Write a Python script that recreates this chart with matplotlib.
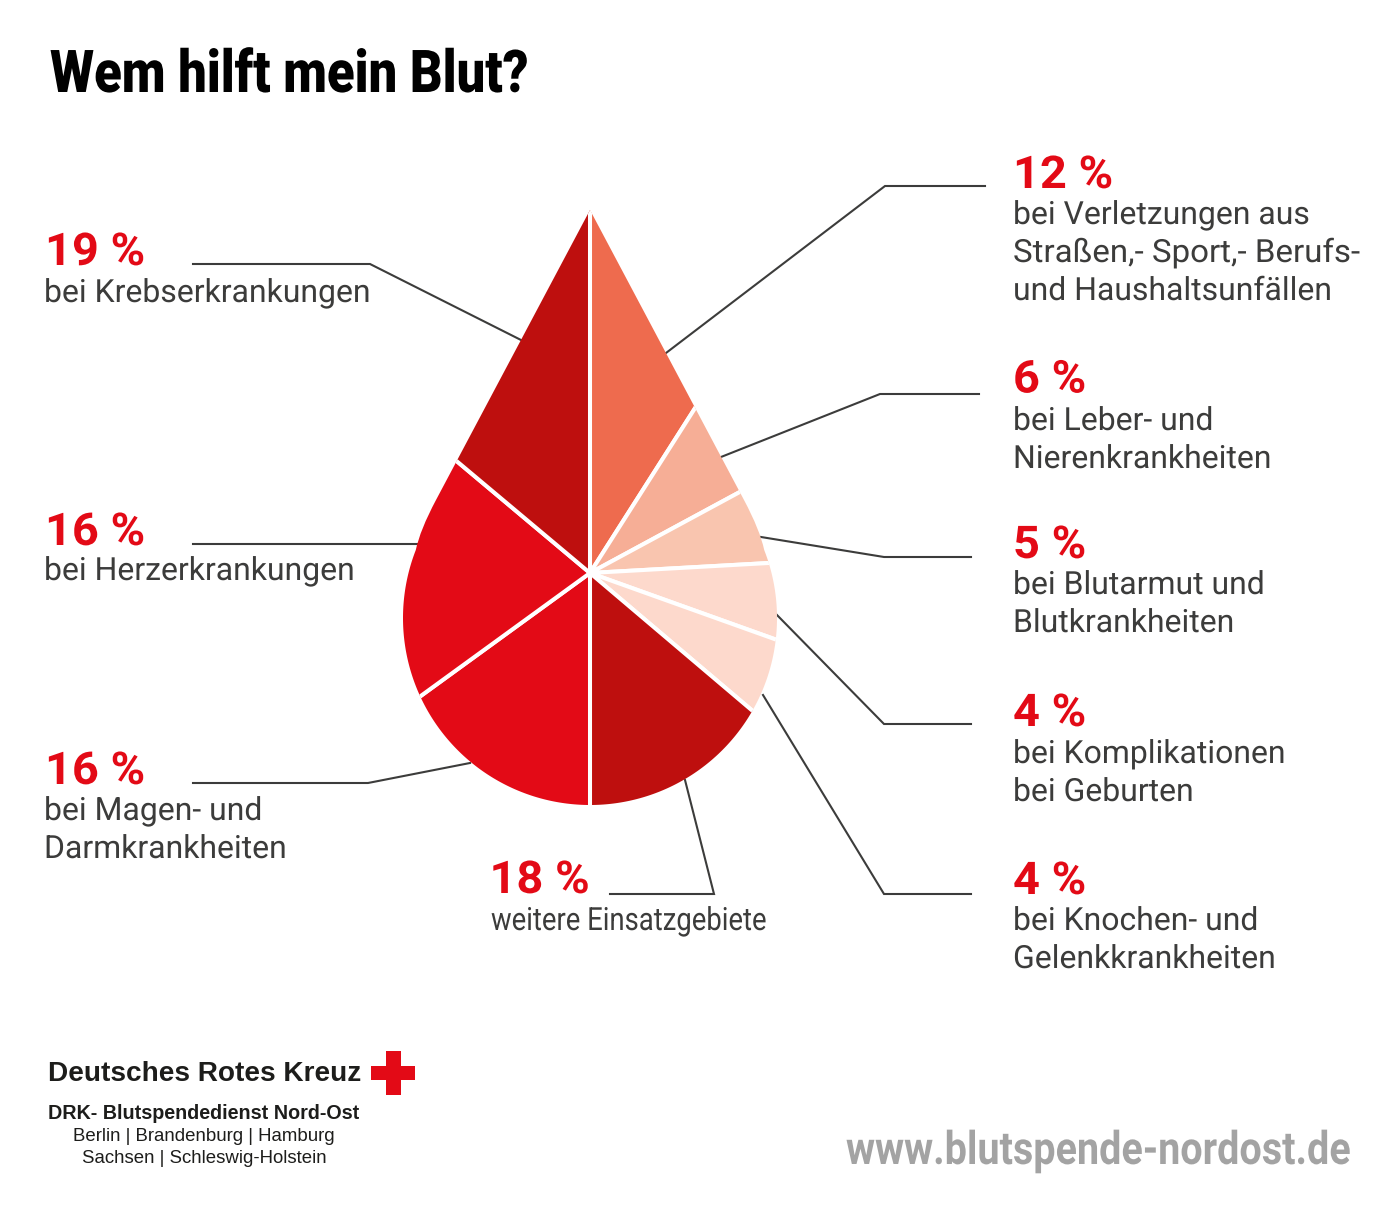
import numpy as np
import matplotlib
matplotlib.use("Agg")
import matplotlib.pyplot as plt
from matplotlib.path import Path
from matplotlib.patches import Rectangle
from matplotlib.patheffects import AbstractPathEffect
from matplotlib.transforms import Affine2D

# figures printed in the labels, clockwise from the tip
percents = [12, 6, 5, 4, 4, 18, 16, 16, 19]
labels = [
    "bei Verletzungen aus\nStraßen,- Sport,- Berufs-\nund Haushaltsunfällen",
    "bei Leber- und\nNierenkrankheiten",
    "bei Blutarmut und\nBlutkrankheiten",
    "bei Komplikationen\nbei Geburten",
    "bei Knochen- und\nGelenkkrankheiten",
    "weitere Einsatzgebiete",
    "bei Magen- und\nDarmkrankheiten",
    "bei Herzerkrankungen",
    "bei Krebserkrankungen",
]
# the drawn slices are not proportional to the figures, sweep read off the picture (degrees)
slice_sweeps = [32.5, 29.1, 25.2, 22.9, 20.6, 49.7, 54.0, 76.0, 50.0]
slice_colors = ["#EE6B4E", "#F6AE96", "#F9C5AF", "#FDD9CC", "#FDD9CC",
                "#BE0F0E", "#E30A16", "#E30A16", "#BE0F0E"]

RED = "#E30A16"
DARK = "#3C3C3B"
H = 1214


class Squeeze(AbstractPathEffect):
    """Scale a text horizontally around its left or right end (no condensed Roboto here)."""

    def __init__(self, sx, right=False):
        super().__init__()
        self.sx = sx
        self.right = right

    def draw_path(self, renderer, gc, tpath, affine, rgbFace=None):
        end = tpath.get_extents().x1 if self.right else 0
        squeeze = Affine2D().translate(-end, 0).scale(self.sx, 1).translate(end, 0)
        renderer.draw_path(gc, tpath, squeeze + affine, rgbFace)


def y(py):
    return H - py


fig = plt.figure(figsize=(14, 12.14), dpi=100)
ax = fig.add_axes([0, 0, 1, 1])

# leader lines in picture pixels
leaders = [
    [(985, 186), (885, 186), (666, 353)],
    [(979, 394), (880, 394), (721, 457)],
    [(971, 557), (884, 557), (761, 537)],
    [(971, 724), (884, 724), (776, 614)],
    [(971, 894), (884, 894), (763, 695)],
    [(610, 894), (714, 894), (685, 780)],
    [(193, 783), (368, 783), (470, 763)],
    [(193, 544), (417, 544)],
    [(193, 264), (370, 264), (521, 340)],
]
for pts in leaders:
    xs, ys = zip(*pts)
    ax.plot(xs, [y(v) for v in ys], color=DARK, lw=1.5, zorder=1, solid_joinstyle="miter")

# teardrop outline: circle, soft shoulders, straight sides up to the tip
cx, cy, r = 590, y(618), 187
tip_y = y(210)
start = np.arcsin(68 / r)
theta = np.linspace(start, -np.pi - start, 300)
arc = np.column_stack([cx + r * np.cos(theta), cy + r * np.sin(theta)])
verts = np.vstack([
    [cx, tip_y],
    [cx + 154, y(500)], [cx + 170, y(530)], arc,
    [cx - 170, y(530)], [cx - 154, y(500)],
    [cx, tip_y], [cx, tip_y],
])
codes = ([Path.MOVETO, Path.LINETO, Path.CURVE3, Path.CURVE3]
         + [Path.LINETO] * (len(arc) - 1)
         + [Path.CURVE3, Path.CURVE3, Path.LINETO, Path.CLOSEPOLY])
drop = Path(verts, codes)

wedges, _ = ax.pie(
    slice_sweeps,
    colors=slice_colors,
    startangle=90,
    counterclock=False,
    center=(590, y(573)),
    radius=600,
    wedgeprops={"edgecolor": "white", "linewidth": 2.9},
)
ax.set_xlim(0, 1400)
ax.set_ylim(0, H)
ax.set_aspect("auto")
ax.axis("off")
for w in wedges:
    w.set_clip_on(True)
    w.set_clip_path(drop, ax.transData)
    w.set_zorder(2)

# text anchors in picture pixels: figure x, figure baseline, label x, first label baseline
anchors = [
    (1013, 188, 1013, 224), (1013, 392.5, 1013, 430), (1013, 558, 1013, 594),
    (1013, 726, 1013, 763), (1013, 894, 1013, 930), (489.5, 893, 491, 930),
    (45, 784, 44, 820), (45, 545, 44, 580), (45, 265, 44, 302),
]
line_step = 38
for i, (pct, label) in enumerate(zip(percents, labels)):
    pct_x, pct_y, text_x, text_y = anchors[i]
    ax.text(pct_x, y(pct_y), f"{pct} %", family="Roboto", weight="bold", fontsize=32.5,
            color=RED, va="baseline", ha="left", path_effects=[Squeeze(1.04)])
    for j, line in enumerate(label.split("\n")):
        sx = 0.86 if line.startswith("weitere") else 1.035 if line.startswith("Straßen") else 1.0
        ax.text(text_x, y(text_y + j * line_step), line, family="Roboto",
                fontsize=23, color=DARK, va="baseline", ha="left", path_effects=[Squeeze(sx)])

ax.text(50, y(92), "Wem hilft mein Blut?", family="Roboto", weight=900, fontsize=42.5,
        color="black", va="baseline", ha="left", path_effects=[Squeeze(0.86)])
ax.text(1352, y(1164), "www.blutspende-nordost.de", family="Roboto", weight="bold", fontsize=33,
        color="#A3A3A3", va="baseline", ha="right", path_effects=[Squeeze(0.863, right=True)])

# logo block
ax.text(48, y(1081), "Deutsches Rotes Kreuz", family="Liberation Sans", weight="bold",
        fontsize=20.2, color="#1D1D1B", va="baseline", ha="left")
ax.add_patch(Rectangle((386, y(1095)), 15, 44, fc=RED, ec="none"))
ax.add_patch(Rectangle((371, y(1080)), 44, 14, fc=RED, ec="none"))
ax.text(48, y(1119), "DRK- Blutspendedienst Nord-Ost", family="Liberation Sans", weight="bold",
        fontsize=14.25, color="#1D1D1B", va="baseline", ha="left")
ax.text(204, y(1141), "Berlin | Brandenburg | Hamburg", family="Liberation Sans",
        fontsize=13.4, color="#1D1D1B", va="baseline", ha="center")
ax.text(204, y(1163), "Sachsen | Schleswig-Holstein", family="Liberation Sans",
        fontsize=13.4, color="#1D1D1B", va="baseline", ha="center")

fig.savefig("out.png", dpi=100)
